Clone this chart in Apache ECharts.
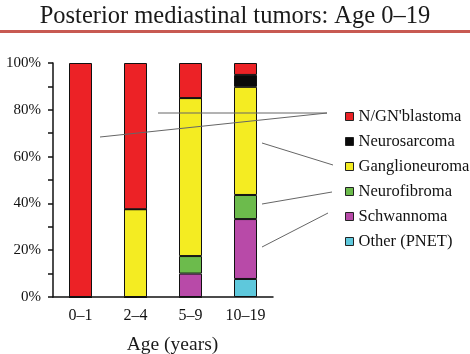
<!DOCTYPE html>
<html>
<head>
<meta charset="utf-8">
<script src="https://cdn.jsdelivr.net/npm/echarts@6/dist/echarts.min.js"></script>
<style>
    html, body {margin: 0; padding: 0; background: #fff;}
    #chart {width: 470px; height: 354px;}
</style>
</head>
<body>
<div id="chart"></div>
<script>
// age groups on the x axis
var ages = ['0–1', '2–4', '5–9', '10–19'];
var yTicks = [0, 20, 40, 60, 80, 100];

// percent of each age group, stacked bottom -> top
var other = [0, 0, 0, 7.7];
var schwannoma = [0, 0, 10, 25.6];
var neurofibroma = [0, 0, 7.5, 10.3];
var ganglioneuroma = [0, 37.5, 67.5, 46.2];
var neurosarcoma = [0, 0, 0, 5.1];
var blastoma = [100, 62.5, 15, 5.1];

var serif = '"Liberation Serif", "DejaVu Serif", serif';

function bar(name, data, color) {
    return {
        name: name,
        type: 'bar',
        stack: 'all',
        barWidth: 23,
        data: data,
        itemStyle: {color: color, borderColor: '#111', borderWidth: 1}
    };
}

var chart = echarts.init(document.getElementById('chart'));
var option = {
    animation: false,
    backgroundColor: '#fff',
    title: {
        text: 'Posterior mediastinal tumors: Age 0–19',
        left: 'center',
        top: -1,
        textStyle: {fontFamily: serif, fontSize: 24.5, fontWeight: 'normal', color: '#1a1a1a'}
    },
    legend: {
        orient: 'vertical',
        left: 340,
        top: 103,
        icon: 'rect',
        itemWidth: 8,
        itemHeight: 8,
        itemGap: 8,
        itemStyle: {borderColor: '#222', borderWidth: 1},
        textStyle: {fontFamily: serif, fontSize: 16.5, color: '#111', lineHeight: 17},
        data: ['N/GN\'blastoma', 'Neurosarcoma', 'Ganglioneuroma', 'Neurofibroma', 'Schwannoma', 'Other (PNET)']
    },
    grid: {left: 53, right: 197, top: 63, bottom: 57, outerBoundsMode: 'none'},
    xAxis: {
        type: 'category',
        data: ages,
        name: 'Age (years)',
        nameLocation: 'middle',
        nameGap: 38,
        nameTextStyle: {fontFamily: serif, fontSize: 19.5, color: '#1a1a1a', padding: [0, 0, 0, 19]},
        axisLine: {lineStyle: {color: '#111', width: 1.5}},
        axisTick: {length: 5, lineStyle: {color: '#111', width: 1.5}},
        axisLabel: {fontFamily: serif, fontSize: 16, color: '#111', margin: 11}
    },
    yAxis: {
        type: 'value',
        min: yTicks[0],
        max: yTicks[yTicks.length - 1],
        interval: 20,
        axisLine: {show: true, lineStyle: {color: '#111', width: 1.5}},
        axisTick: {show: true, length: 5, lineStyle: {color: '#111', width: 1.5}},
        minorTick: {show: true, splitNumber: 2, length: 5, lineStyle: {color: '#111', width: 1.5}},
        splitLine: {show: false},
        axisLabel: {fontFamily: serif, fontSize: 15, color: '#111', margin: 12, formatter: '{value}%'}
    },
    series: [
        bar('Other (PNET)', other, '#5ec8dc'),
        bar('Schwannoma', schwannoma, '#b84aa8'),
        bar('Neurofibroma', neurofibroma, '#6cbb4c'),
        bar('Ganglioneuroma', ganglioneuroma, '#f4ec22'),
        bar('Neurosarcoma', neurosarcoma, '#0a0a0a'),
        bar('N/GN\'blastoma', blastoma, '#ec2226')
    ],
    graphic: [
        // red rule under the title
        {type: 'rect', left: 0, top: 30, shape: {width: 470, height: 3}, style: {fill: '#c85a52'}, z: 10},
        // leader lines from legend to bars
        {type: 'line', shape: {x1: 158, y1: 113, x2: 327, y2: 113}, style: {stroke: '#666', lineWidth: 1}, z: 100},
        {type: 'line', shape: {x1: 100, y1: 137, x2: 327, y2: 113}, style: {stroke: '#666', lineWidth: 1}, z: 100},
        {type: 'line', shape: {x1: 262, y1: 143, x2: 333, y2: 165}, style: {stroke: '#666', lineWidth: 1}, z: 100},
        {type: 'line', shape: {x1: 262, y1: 204, x2: 332, y2: 192}, style: {stroke: '#666', lineWidth: 1}, z: 100},
        {type: 'line', shape: {x1: 262, y1: 247, x2: 328, y2: 213}, style: {stroke: '#666', lineWidth: 1}, z: 100}
    ]
};
chart.setOption(option);
</script>
</body>
</html>
